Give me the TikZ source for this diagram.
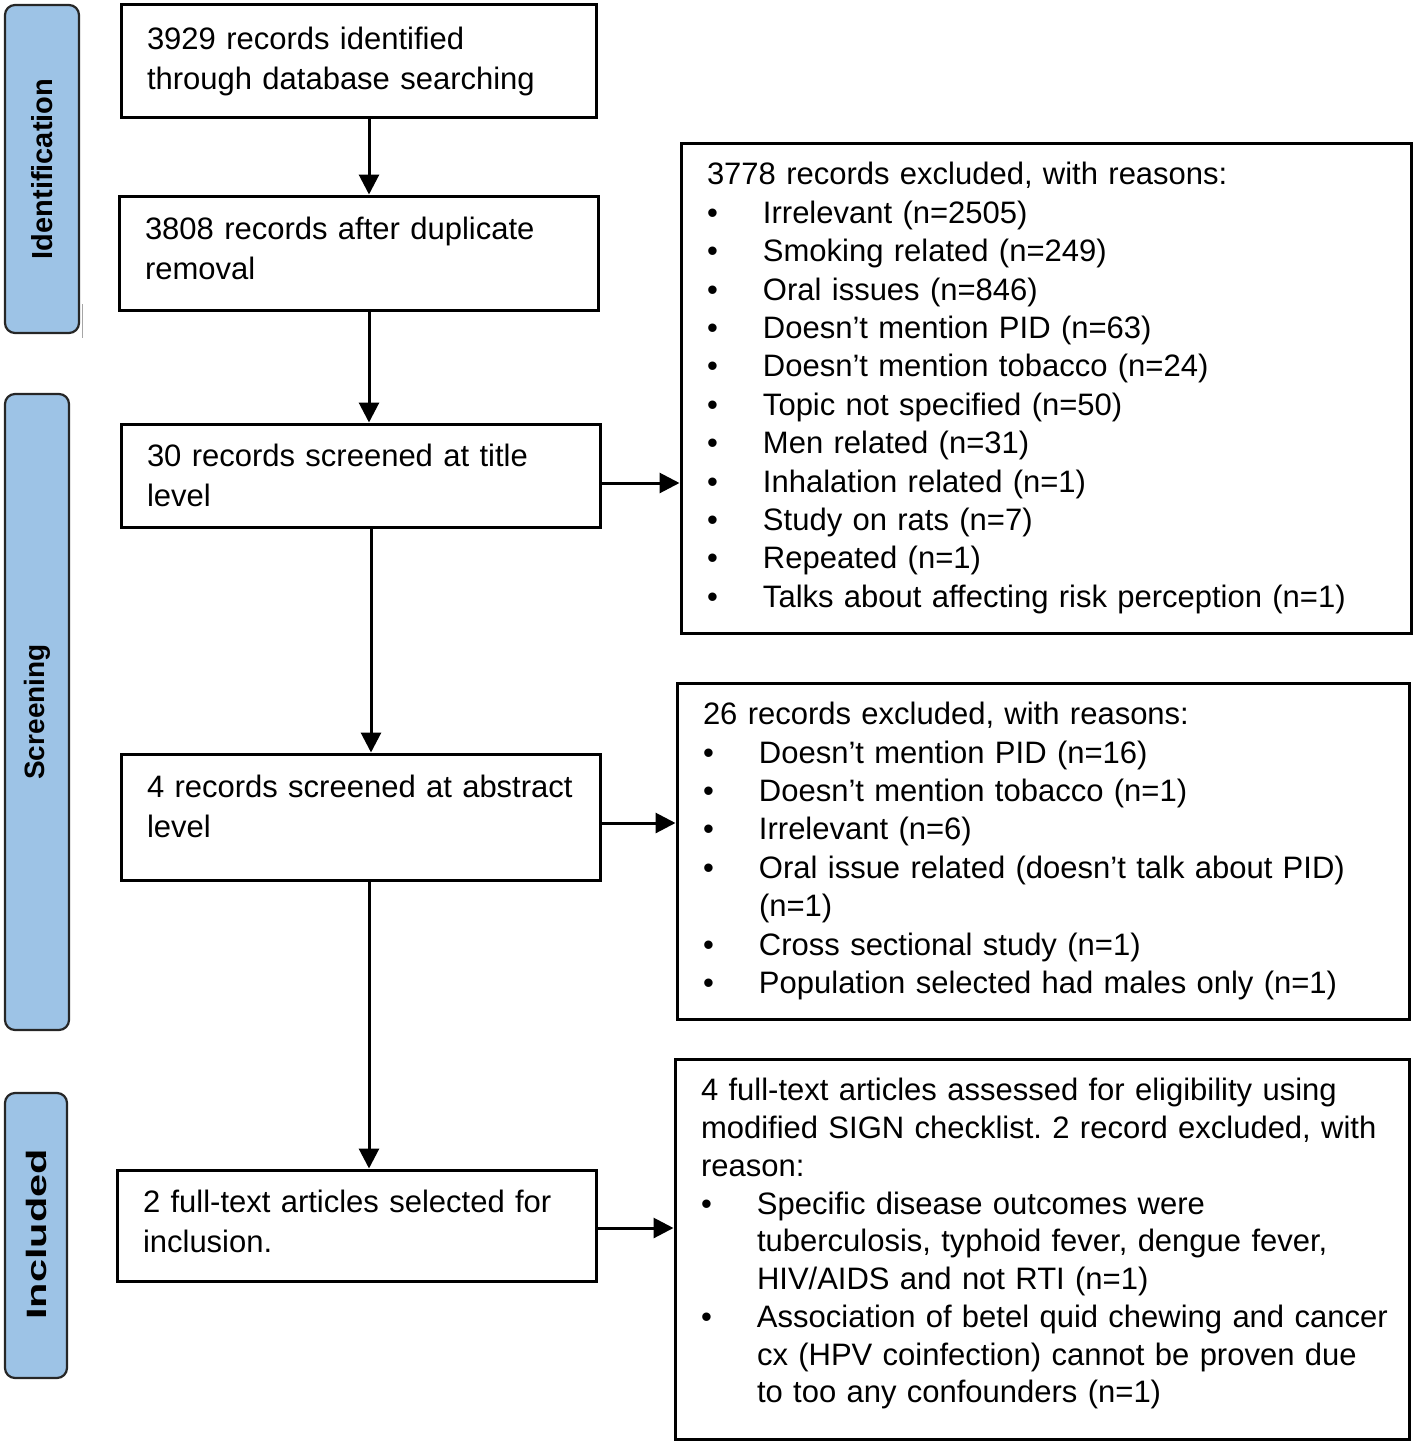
\documentclass[tikz,border=0pt]{standalone}
\usepackage{fontspec}
\setmainfont{Liberation Sans}
\usetikzlibrary{arrows.meta,calc}
\definecolor{barblue}{HTML}{9DC3E6}
\newcommand\bul{\makebox[56pt][l]{\textbullet}}
\newcommand\ind{\hspace*{56pt}}
\newcommand\xdepth[1]{\rule[-#1]{0pt}{0pt}}
\frenchspacing
\begin{document}
\begin{tikzpicture}[x=1pt,y=-1pt,
  box/.style={draw,line width=3pt,align=left,inner xsep=26pt,inner ysep=0pt,anchor=center},
  lbox/.style={box,font=\fontsize{31}{40}\selectfont},
  rbox/.style={box,font=\fontsize{31}{38.4}\selectfont},
  bar/.style={draw=black!85,line width=2.2pt,fill=barblue,rounded corners=10pt,inner sep=0pt},
  arr/.style={line width=3pt,-{Triangle[length=20pt,width=20pt]}}
]
\useasboundingbox (0,0) rectangle (1417,1445);
% side bars
\node[bar,minimum width=74pt,minimum height=328pt] (idbar) at (42,169) {};
\node[rotate=90,font=\fontsize{29}{32}\selectfont\bfseries] (idtxt) at (idbar.center) {Identification};
\node[bar,minimum width=64pt,minimum height=636pt] (scbar) at (37,712) {};
\node[rotate=90,font=\fontsize{28}{32}\selectfont\bfseries] (sctxt) at (scbar.center) {Screening};
\node[bar,minimum width=62pt,minimum height=285pt] (inbar) at (36,1235.5) {};
\node[rotate=90,font=\fontsize{28}{32}\selectfont\bfseries] (intxt) at ($(inbar.center)+(0,-1)$) {\scalebox{1.48}[1]{Included}};
\coordinate (g1) at (82,304);
\coordinate (g2) at (82,338);
\draw[black!35,line width=1pt] (g1) -- (g2);
% left boxes
\node[lbox,minimum width=475pt,minimum height=112pt,text width=423pt] (b1) at (358.5,61)
  {3929 records identified\\through database searching};
\node[lbox,minimum width=479pt,minimum height=114pt,text width=427pt] (b2) at (358.5,253)
  {3808 records after duplicate\\removal\xdepth{10pt}};
\node[lbox,minimum width=479pt,minimum height=103pt,text width=427pt] (b3) at (360.5,475.5)
  {30 records screened at title\\level};
\node[lbox,minimum width=479pt,minimum height=126pt,text width=427pt] (b4) at (360.5,817)
  {4 records screened at abstract\\level\xdepth{22pt}};
\node[lbox,minimum width=479pt,minimum height=111pt,text width=427pt] (b5) at (356.5,1225.5)
  {2 full-text articles selected for\\inclusion.\xdepth{8pt}};
% right boxes
\node[rbox,minimum width=730pt,minimum height=490pt,text width=678pt] (r1) at (1046,388)
  {3778 records excluded, with reasons:\\
   \bul Irrelevant (n=2505)\\
   \bul Smoking related (n=249)\\
   \bul Oral issues (n=846)\\
   \bul Doesn’t mention PID (n=63)\\
   \bul Doesn’t mention tobacco (n=24)\\
   \bul Topic not specified (n=50)\\
   \bul Men related (n=31)\\
   \bul Inhalation related (n=1)\\
   \bul Study on rats (n=7)\\
   \bul Repeated (n=1)\\
   \bul\mbox{Talks about affecting risk perception (n=1)}};
\node[rbox,minimum width=732pt,minimum height=336pt,text width=680pt] (r2) at (1043,851)
  {26 records excluded, with reasons:\\
   \bul Doesn’t mention PID (n=16)\\
   \bul Doesn’t mention tobacco (n=1)\\
   \bul Irrelevant (n=6)\\
   \bul\mbox{Oral issue related (doesn’t talk about PID)}\\
   \ind (n=1)\\
   \bul Cross sectional study (n=1)\\
   \bul\mbox{Population selected had males only (n=1)}};
\node[rbox,minimum width=734pt,minimum height=380pt,text width=682pt,font=\fontsize{31}{37.75}\selectfont] (r3) at (1042,1249)
  {\mbox{4 full-text articles assessed for eligibility using}\\
   \mbox{modified SIGN checklist. 2 record excluded, with}\\
   reason:\\
   \bul Specific disease outcomes were\\
   \ind\mbox{tuberculosis, typhoid fever, dengue fever,}\\
   \ind HIV/AIDS and not RTI (n=1)\\
   \bul\mbox{Association of betel quid chewing and cancer}\\
   \ind\mbox{cx (HPV coinfection) cannot be proven due}\\
   \ind to too any confounders (n=1)\xdepth{16.5pt}};
% arrow start points
\coordinate (s1) at ($(b1.south)+(10.5,0)$);
\coordinate (s2) at ($(b2.south)+(10.5,0)$);
\coordinate (s3) at ($(b3.south)+(10.5,0)$);
\coordinate (s4) at ($(b4.south)+(8.5,0)$);
\coordinate (h3) at ($(b3.east)+(0,7.5)$);
\coordinate (h4) at ($(b4.east)+(0,6)$);
\coordinate (h5) at ($(b5.east)+(0,2.5)$);
% vertical arrows
\draw[arr] (s1) -- (s1 |- b2.north);
\draw[arr] (s2) -- (s2 |- b3.north);
\draw[arr] (s3) -- (s3 |- b4.north);
\draw[arr] (s4) -- (s4 |- b5.north);
% horizontal arrows
\draw[arr] (h3) -- (h3 -| r1.west);
\draw[arr] (h4) -- (h4 -| r2.west);
\draw[arr] (h5) -- (h5 -| r3.west);
\end{tikzpicture}
\end{document}
